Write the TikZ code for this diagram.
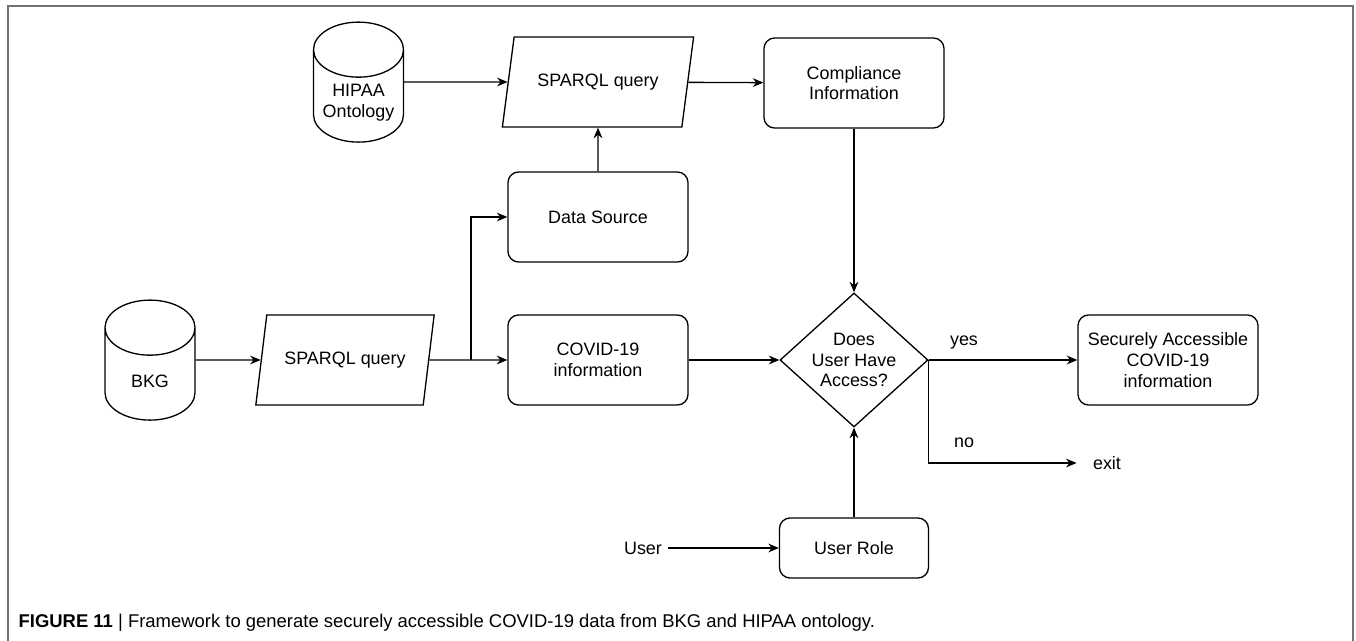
\documentclass[tikz,border=0pt]{standalone}
\usepackage{fontspec}
\setmainfont{Liberation Sans}
\usetikzlibrary{arrows.meta,positioning,shapes.geometric}

\tikzset{
  box/.style={draw,rounded corners=6pt,minimum width=3.6cm,minimum height=1.8cm,align=center},
  io/.style={draw,trapezium,trapezium left angle=71.6,trapezium right angle=108.4,
    trapezium stretches=true,minimum height=1.8cm},
  db/.style={draw,cylinder,shape border rotate=90,aspect=4.7,minimum width=1.8cm,minimum height=2.4cm},
  test/.style={draw,diamond,aspect=1.1,inner sep=0pt,minimum width=2.96cm,minimum height=2.68cm,align=center},
  tag/.style={anchor=base west}
}

\begin{document}
\begin{tikzpicture}[>={Stealth[length=6pt,width=5pt]},line width=0.75pt,node distance=3cm,on grid,
  font=\fontsize{10.2}{11.8}\selectfont]
  \useasboundingbox (0,0) rectangle (27.12,-12.82);
  \draw[black!55,line width=0.6pt] (0.16,-13) |- (27.06,-0.12) -- (27.06,-13);

  \node[io,minimum width=3.6cm] (Q_2) at (6.9,-7.2) {SPARQL query};
  \node[db,label=center:BKG] (bkg) [left=3.9 of Q_2,yshift=-0.42cm] {};
  \node[box] (covid) [right=5.06 of Q_2] {COVID-19\\information};
  \node[box] (src) [above=2.86 of covid] {Data Source};
  \node[io,minimum width=3.86cm] (Q_1) [above=2.7 of src] {SPARQL query};
  \node[db,label={[align=center]center:HIPAA\\Ontology}] (hipaa) [left=4.79 of Q_1,yshift=-0.42cm] {};
  \node[test] (D_1) [right=5.12 of covid] {Does\\User Have\\Access?};
  \node[box] (comp) [above=5.54 of D_1] {Compliance\\Information};
  \node[box] (out) [right=6.28 of D_1] {Securely Accessible\\COVID-19\\information};
  \node[box,minimum width=2.98cm,minimum height=1.2cm] (role) [below=3.76 of D_1] {User Role};
  \node (user) [left=4.22 of role] {User};
  \node[inner xsep=9pt] (exit) [below right=2.06 and 5.06 of D_1] {exit};
  \coordinate[right=2.52 of Q_2] (split);

  \draw[->] (hipaa.east |- Q_1) -- (Q_1);
  \draw[->] (Q_1) -- (comp);
  \draw[->] (src) -- (Q_1);
  \draw[->] (comp) -- (D_1);
  \draw[->] (bkg.east |- Q_2) -- (Q_2);
  \draw[->] (Q_2) -- (covid);
  \draw[->] (split) |- (src);
  \draw[->] (covid) -- (D_1);
  \draw[->] (D_1) -- node[tag,pos=0.1,yshift=0.28cm] {yes} (out);
  \draw[->] (D_1.east) |- node[tag,pos=0.564,yshift=0.3cm] {no} (exit);
  \draw[->] (user) -- (role);
  \draw[->] (role) -- (D_1);

  \node[anchor=base west,inner sep=0pt,font=\fontsize{10.5}{12}\selectfont] (cap) at (0.36,-12.54)
    {\textbf{FIGURE 11} | Framework to generate securely accessible COVID-19 data from BKG and HIPAA ontology.};
\end{tikzpicture}
\end{document}
